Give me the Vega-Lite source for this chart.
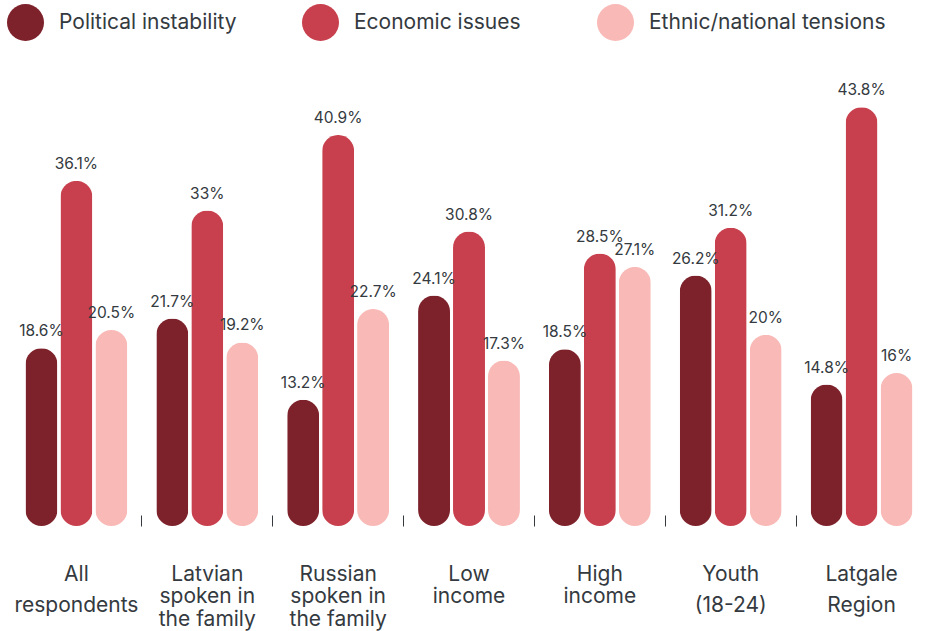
{
  "$schema": "https://vega.github.io/schema/vega-lite/v6.json",
  "autosize": "none",
  "width": 916,
  "height": 478,
  "padding": {"left": 11, "top": 48, "right": 1, "bottom": 105},
  "background": "white",
  "config": {"view": {"stroke": null}, "font": "Inter"},
  "data": {
    "values": [
      {"group": "All|respondents", "series": "Political instability", "value": 18.6},
      {"group": "All|respondents", "series": "Economic issues", "value": 36.1},
      {"group": "All|respondents", "series": "Ethnic/national tensions", "value": 20.5},
      {"group": "Latvian|spoken in|the family", "series": "Political instability", "value": 21.7},
      {"group": "Latvian|spoken in|the family", "series": "Economic issues", "value": 33},
      {"group": "Latvian|spoken in|the family", "series": "Ethnic/national tensions", "value": 19.2},
      {"group": "Russian|spoken in|the family", "series": "Political instability", "value": 13.2},
      {"group": "Russian|spoken in|the family", "series": "Economic issues", "value": 40.9},
      {"group": "Russian|spoken in|the family", "series": "Ethnic/national tensions", "value": 22.7},
      {"group": "Low|income", "series": "Political instability", "value": 24.1},
      {"group": "Low|income", "series": "Economic issues", "value": 30.8},
      {"group": "Low|income", "series": "Ethnic/national tensions", "value": 17.3},
      {"group": "High|income", "series": "Political instability", "value": 18.5},
      {"group": "High|income", "series": "Economic issues", "value": 28.5},
      {"group": "High|income", "series": "Ethnic/national tensions", "value": 27.1},
      {"group": "Youth|(18-24)", "series": "Political instability", "value": 26.2},
      {"group": "Youth|(18-24)", "series": "Economic issues", "value": 31.2},
      {"group": "Youth|(18-24)", "series": "Ethnic/national tensions", "value": 20},
      {"group": "Latgale|Region", "series": "Political instability", "value": 14.8},
      {"group": "Latgale|Region", "series": "Economic issues", "value": 43.8},
      {"group": "Latgale|Region", "series": "Ethnic/national tensions", "value": 16}
    ]
  },
  "transform": [
    {"calculate": "format(datum.value, '.1~f') + '%'", "as": "label"}
  ],
  "resolve": {"axis": {"x": "independent"}},
  "encoding": {
    "xOffset": {
      "field": "series",
      "type": "nominal",
      "sort": ["Political instability", "Economic issues", "Ethnic/national tensions"],
      "scale": {"paddingInner": 0.0857, "paddingOuter": 0.414}
    },
    "y": {
      "field": "value",
      "type": "quantitative",
      "scale": {"domain": [0, 50], "nice": false},
      "axis": null
    }
  },
  "layer": [
    {
      "mark": {"type": "bar", "cornerRadius": 16},
      "encoding": {
        "x": {
          "field": "group",
          "type": "nominal",
          "sort": null,
          "scale": {"paddingInner": 0, "paddingOuter": 0},
          "axis": {
            "orient": "bottom",
            "values": ["Latvian|spoken in|the family", "Russian|spoken in|the family", "Low|income", "High|income"],
            "title": null,
            "domain": false,
            "offset": -11,
            "tickSize": 11,
            "tickColor": "#343a40",
            "tickWidth": 1,
            "bandPosition": 0,
            "labelAngle": 0,
            "labelAlign": "center",
            "labelBaseline": "top",
            "labelPadding": 37,
            "labelFontSize": 21,
            "labelFont": "Inter",
            "labelColor": "#343a40",
            "labelLimit": 300,
            "labelLineHeight": 22.5,
            "labelExpr": "split(datum.value, '|')"
          }
        },
        "color": {
          "field": "series",
          "type": "nominal",
          "sort": ["Political instability", "Economic issues", "Ethnic/national tensions"],
          "scale": {
            "domain": ["Political instability", "Economic issues", "Ethnic/national tensions"],
            "range": ["#7d212a", "#c8404d", "#f9b9b7"]
          },
          "legend": {
            "orient": "none",
            "legendX": -4,
            "legendY": -44,
            "direction": "horizontal",
            "columns": 3,
            "gridAlign": "all",
            "title": null,
            "symbolType": "circle",
            "symbolSize": 1369,
            "symbolStrokeWidth": 0,
            "symbolOpacity": 1,
            "labelFontSize": 21,
            "labelFont": "Inter",
            "labelColor": "#343a40",
            "labelOffset": 15,
            "columnPadding": 6,
            "labelLimit": 400
          }
        }
      }
    },
    {
      "mark": {"type": "text", "baseline": "bottom", "dy": -9, "fontSize": 15.5, "font": "Inter", "color": "#343a40"},
      "encoding": {
        "x": {
          "field": "group",
          "type": "nominal",
          "sort": null,
          "scale": {"paddingInner": 0, "paddingOuter": 0},
          "axis": {
            "orient": "bottom",
            "values": ["All|respondents", "Youth|(18-24)", "Latgale|Region"],
            "title": null,
            "domain": false,
            "offset": -11,
            "tickSize": 11,
            "tickColor": "#343a40",
            "tickWidth": 1,
            "bandPosition": 0,
            "tickOpacity": {"condition": {"test": "datum.value === 'All|respondents'", "value": 0}, "value": 1},
            "labelAngle": 0,
            "labelAlign": "center",
            "labelBaseline": "top",
            "labelPadding": 37,
            "labelFontSize": 21,
            "labelFont": "Inter",
            "labelColor": "#343a40",
            "labelLimit": 300,
            "labelLineHeight": 31,
            "labelExpr": "split(datum.value, '|')"
          }
        },
        "text": {"field": "label"}
      }
    }
  ]
}
